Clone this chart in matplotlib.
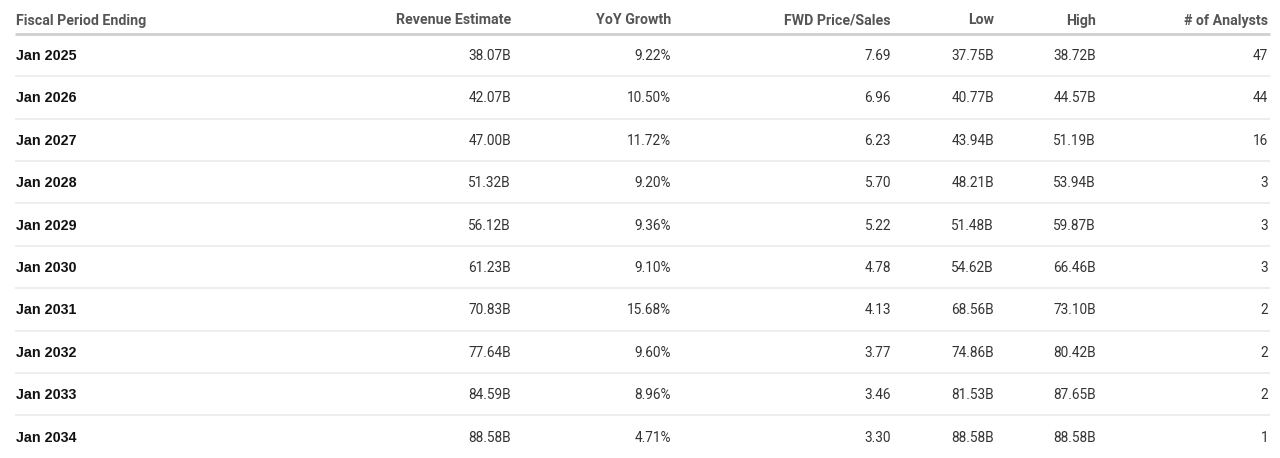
import matplotlib
matplotlib.use("Agg")
import matplotlib.pyplot as plt

headers = ["Fiscal Period Ending", "Revenue Estimate", "YoY Growth",
           "FWD Price/Sales", "Low", "High", "# of Analysts"]
periods = ["Jan 2025", "Jan 2026", "Jan 2027", "Jan 2028", "Jan 2029",
           "Jan 2030", "Jan 2031", "Jan 2032", "Jan 2033", "Jan 2034"]
revenue = [38.07, 42.07, 47.00, 51.32, 56.12, 61.23, 70.83, 77.64, 84.59, 88.58]
yoy = [9.22, 10.50, 11.72, 9.20, 9.36, 9.10, 15.68, 9.60, 8.96, 4.71]
fwd_ps = [7.69, 6.96, 6.23, 5.70, 5.22, 4.78, 4.13, 3.77, 3.46, 3.30]
low = [37.75, 40.77, 43.94, 48.21, 51.48, 54.62, 68.56, 74.86, 81.53, 88.58]
high = [38.72, 44.57, 51.19, 53.94, 59.87, 66.46, 73.10, 80.42, 87.65, 88.58]
analysts = [47, 44, 16, 3, 3, 3, 2, 2, 2, 1]

# layout in pixels
W, H = 1280, 458
col_x = [16, 511, 671, 891, 994, 1096, 1268]
header_y = 20.5
row_y0, row_dy = 56, 42.4

fig = plt.figure(figsize=(W / 100, H / 100), dpi=100)
ax = fig.add_axes([0, 0, 1, 1])
ax.set_xlim(0, W)
ax.set_ylim(H, 0)
ax.axis("off")

for i, h in enumerate(headers):
    ax.text(col_x[i], header_y, h, ha="left" if i == 0 else "right", va="center",
            fontsize=10.2, fontweight="bold", color="#555555", family="Roboto")
ax.plot([15, 1270], [34, 34], color="#cfcfcf", lw=2, solid_capstyle="butt")

for r, p in enumerate(periods):
    y = row_y0 + r * row_dy
    vals = [f"{revenue[r]:.2f}B", f"{yoy[r]:.2f}%", f"{fwd_ps[r]:.2f}",
            f"{low[r]:.2f}B", f"{high[r]:.2f}B", f"{analysts[r]}"]
    ax.text(col_x[0], y, p, ha="left", va="center", fontsize=10.3,
            fontweight="bold", color="#111111", family="Liberation Sans")
    for c, v in enumerate(vals, start=1):
        ax.text(col_x[c], y, v, ha="right", va="center", fontsize=9.8,
                color="#333333", family="Roboto")
    if r < len(periods) - 1:
        ax.plot([15, 1270], [y + row_dy / 2 - 1, y + row_dy / 2 - 1], color="#ebebeb",
                lw=1.2, solid_capstyle="butt")

fig.savefig("out.png", dpi=100, facecolor="white")
